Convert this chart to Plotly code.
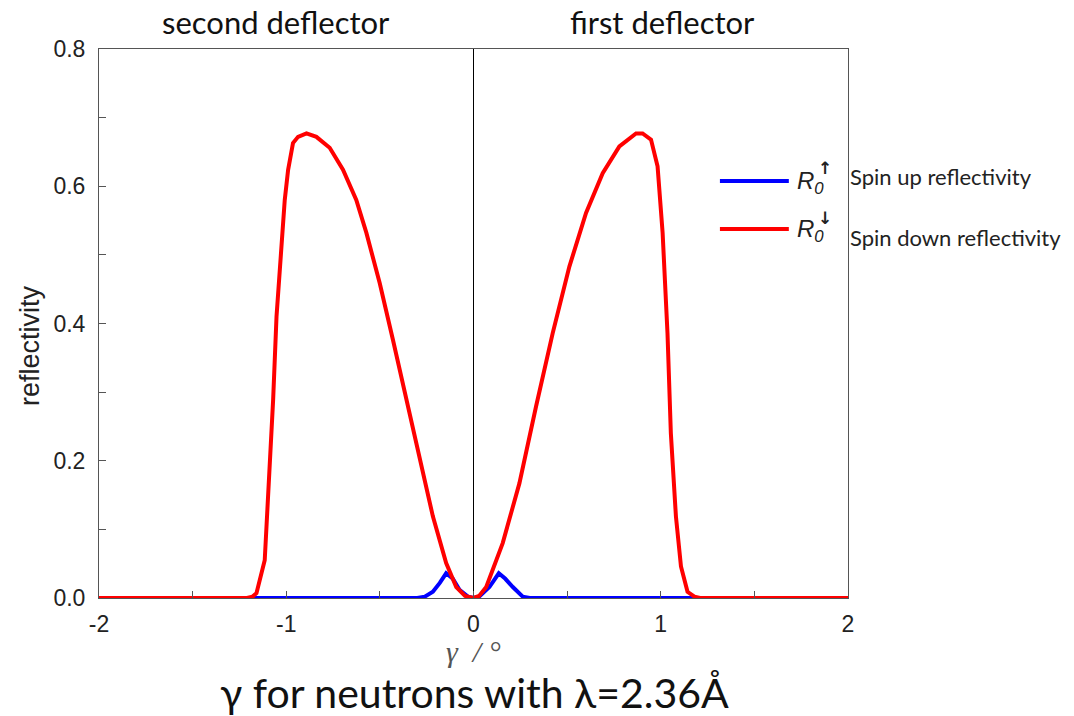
import plotly.graph_objects as go

# ---- data ----
red_gamma = [-2.0, -1.25, -1.21, -1.18, -1.159, -1.115, -1.088, -1.070, -1.052, -1.026,
             -1.008, -0.990, -0.964, -0.937, -0.892, -0.839, -0.768, -0.697, -0.626,
             -0.572, -0.501, -0.430, -0.359, -0.288, -0.217, -0.146, -0.092, -0.045,
             0.0, 0.03, 0.068, 0.156, 0.245, 0.334, 0.423, 0.512, 0.601, 0.690, 0.779,
             0.868, 0.903, 0.948, 0.983, 1.010, 1.036, 1.054, 1.081, 1.108, 1.143,
             1.18, 1.21, 1.25, 2.0]
red_refl = [0.0, 0.0, 0.0, 0.002, 0.007, 0.055, 0.191, 0.289, 0.410, 0.507,
            0.580, 0.624, 0.663, 0.672, 0.677, 0.672, 0.656, 0.624, 0.580,
            0.532, 0.459, 0.376, 0.289, 0.201, 0.119, 0.051, 0.016, 0.003,
            0.0, 0.003, 0.016, 0.080, 0.167, 0.279, 0.386, 0.483, 0.561, 0.619, 0.658,
            0.677, 0.677, 0.668, 0.629, 0.532, 0.386, 0.240, 0.119, 0.046, 0.009,
            0.002, 0.0, 0.0, 0.0]

blue_gamma = [-2.0, -0.30, -0.26, -0.217, -0.18, -0.146, -0.11, -0.075, -0.03, 0.0,
              0.03, 0.085, 0.135, 0.17, 0.21, 0.263, 0.30, 2.0]
blue_refl = [0.0, 0.0, 0.002, 0.009, 0.022, 0.036, 0.028, 0.012, 0.002, 0.0,
             0.002, 0.016, 0.036, 0.028, 0.016, 0.002, 0.0, 0.0]

x_ticks = [-2, -1, 0, 1, 2]
x_tick_labels = ["-2", "-1", "0", "1", "2"]
y_ticks = [0.0, 0.2, 0.4, 0.6, 0.8]
y_tick_labels = ["0.0", "0.2", "0.4", "0.6", "0.8"]

BLUE = "#0000ff"
RED = "#ff0000"
AXIS = "#555555"
TXT = "Lato"
ARIAL = "Liberation Sans, Arial"

fig = go.Figure()
fig.add_trace(go.Scatter(x=blue_gamma, y=blue_refl, mode="lines",
                         line=dict(color=BLUE, width=4), showlegend=False))
fig.add_trace(go.Scatter(x=red_gamma, y=red_refl, mode="lines",
                         line=dict(color=RED, width=4), showlegend=False))

fig.update_layout(
    width=1074, height=716,
    margin=dict(l=99, r=226, t=49, b=118),
    paper_bgcolor="white", plot_bgcolor="white",
    xaxis=dict(range=[-2, 2], tickmode="array", tickvals=x_ticks, ticktext=x_tick_labels,
               ticks="inside", ticklen=7, tickcolor=AXIS, showline=True, linecolor=AXIS,
               linewidth=1, mirror=True, showgrid=False, zeroline=False,
               ticklabelstandoff=5,
               minor=dict(dtick=0.5, ticks="inside", ticklen=7, tickcolor=AXIS),
               tickfont=dict(family=ARIAL, size=23, color="#222")),
    yaxis=dict(range=[0, 0.8], tickmode="array", tickvals=y_ticks, ticktext=y_tick_labels,
               ticks="inside", ticklen=7, tickcolor=AXIS, showline=True, linecolor=AXIS,
               linewidth=1, mirror=True, showgrid=False, zeroline=False,
               ticklabelstandoff=8,
               minor=dict(dtick=0.1, ticks="inside", ticklen=7, tickcolor=AXIS),
               tickfont=dict(family=ARIAL, size=23, color="#222")),
)

# vertical reference line at gamma = 0
fig.add_shape(type="line", xref="x", yref="y", x0=0, x1=0, y0=0, y1=0.8,
              line=dict(color="black", width=1), layer="below")

# legend (drawn manually)
for ypos, col in [(0.7596, BLUE), (0.672, RED)]:
    fig.add_shape(type="line", xref="paper", yref="paper", x0=0.829, x1=0.921,
                  y0=ypos, y1=ypos, line=dict(color=col, width=4))

ann = []
# axis titles
ann.append(dict(x=0.0, y=0.459, xshift=-69, text="reflectivity", textangle=-90,
                xanchor="center", yanchor="middle",
                font=dict(family=ARIAL, size=27, color="#222")))
ann.append(dict(x=0.5, y=0.0, yshift=-53, text="<i>γ\u00a0\u00a0/\u00a0°</i>", xanchor="center",
                yanchor="middle",
                font=dict(family="Liberation Serif, Times New Roman", size=30, color="#555")))
ann.append(dict(x=0.929, y=0.757, text="<i>R<sub>0</sub></i>", xanchor="left", yanchor="middle",
                font=dict(family=ARIAL, size=24, color="#222")))
ann.append(dict(x=0.969, y=0.783, text="<b>↑</b>", xanchor="center", yanchor="middle",
                font=dict(family="DejaVu Sans", size=17, color="#222")))
ann.append(dict(x=0.929, y=0.669, text="<i>R<sub>0</sub></i>", xanchor="left", yanchor="middle",
                font=dict(family=ARIAL, size=24, color="#222")))
ann.append(dict(x=0.969, y=0.692, text="<b>↓</b>", xanchor="center", yanchor="middle",
                font=dict(family="DejaVu Sans", size=17, color="#222")))
ann.append(dict(x=1.0, y=0.767, text="Spin up reflectivity", xanchor="left", yanchor="middle",
                xshift=0, font=dict(family=TXT, size=22, color="#222")))
ann.append(dict(x=1.0, y=0.656, text="Spin down reflectivity", xanchor="left", yanchor="middle",
                xshift=0, font=dict(family=TXT, size=22, color="#222")))
# top labels
ann.append(dict(x=0.236, y=1.0, yshift=27, text="second deflector", xanchor="center", yanchor="middle",
                font=dict(family=TXT, size=31, color="#111")))
ann.append(dict(x=0.753, y=1.0, yshift=27, text="first deflector", xanchor="center", yanchor="middle",
                font=dict(family=TXT, size=31, color="#111")))
# bottom caption
ann.append(dict(x=0.501, y=0.0, yshift=-94, text="γ for neutrons with λ=2.36Å", xanchor="center",
                yanchor="middle", font=dict(family=TXT, size=41, color="#111")))
for a in ann:
    a.update(xref="paper", yref="paper", showarrow=False)
fig.update_layout(annotations=ann)

fig.write_html("out.html")
